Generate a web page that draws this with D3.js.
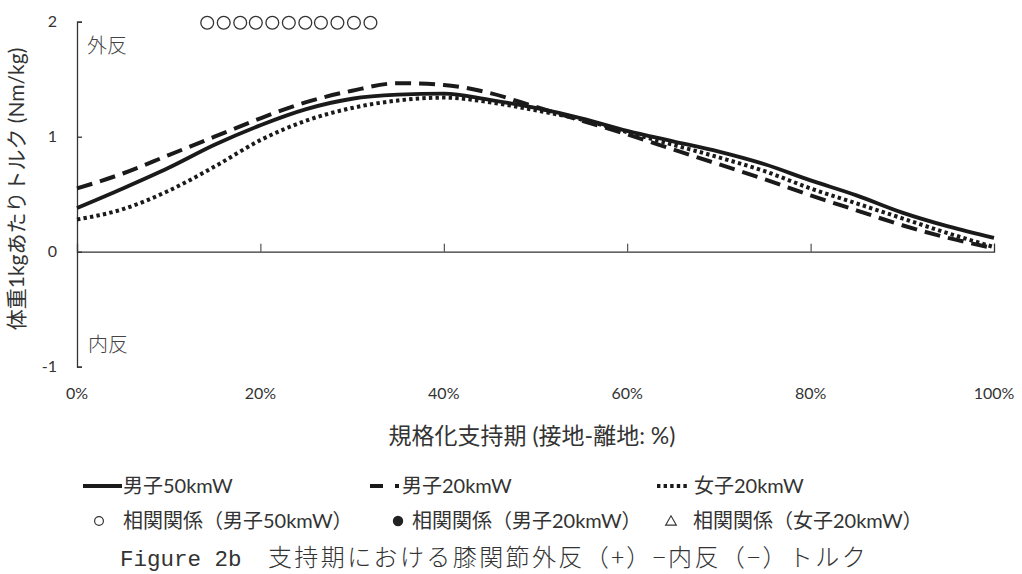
<!DOCTYPE html>
<html><head><meta charset="utf-8">
<script src="https://cdn.jsdelivr.net/npm/d3@7/dist/d3.min.js"></script>
<style>
body{margin:0;background:#fff;}
svg{display:block;}
text{fill:#333;}
</style></head>
<body>
<svg id="chart" width="1022" height="574"></svg>
<script>
// ---- data ----
const phase = [0,5,10,15,20,25,30,35,40,45,50,55,60,65,70,75,80,85,90,95,100];
const male50 = [0.38,0.55,0.73,0.93,1.10,1.24,1.33,1.365,1.375,1.32,1.25,1.16,1.05,0.96,0.87,0.76,0.62,0.49,0.34,0.22,0.12];
const male20 = [0.55,0.68,0.84,1.00,1.16,1.30,1.40,1.465,1.45,1.38,1.26,1.14,1.02,0.89,0.76,0.63,0.49,0.36,0.23,0.12,0.03];
const female20 = [0.28,0.37,0.53,0.74,0.97,1.14,1.25,1.315,1.34,1.30,1.23,1.15,1.04,0.93,0.82,0.70,0.55,0.42,0.29,0.16,0.04];
const sigMale50 = [14.2,16.0,17.8,19.5,21.3,23.1,24.9,26.6,28.4,30.2,32.0];
const xTicks = [0,20,40,60,80,100];
const yTicks = [-1,0,1,2];
const seriesNames = ["男子50kmW","男子20kmW","女子20kmW"];
const corrNames = ["相関関係（男子50kmW）","相関関係（男子20kmW）","相関関係（女子20kmW）"];

const svg = d3.select("#chart");
const ink = "#1a1a1a";
const axisCol = "#333";
const latin = "Lato, 'Noto Sans CJK JP', sans-serif";

const x = d3.scaleLinear().domain([0,100]).range([77,994]);
const y = d3.scaleLinear().domain([-1,2]).range([366.7,21.7]);

// y axis
const yAxis = svg.append("g").attr("transform",`translate(${x(0)},0)`)
  .call(d3.axisRight(y).tickValues(yTicks).tickSize(5).tickFormat(""));
yAxis.select(".domain").attr("stroke",axisCol).attr("stroke-width",1.3);
yAxis.selectAll(".tick line").attr("stroke",axisCol).attr("stroke-width",1.3);
svg.append("g").selectAll("text").data(yTicks).join("text")
  .attr("x",57).attr("y",d=>y(d)).attr("dy","0.36em").attr("text-anchor","end")
  .style("font-family",latin).style("font-size","16px").text(d=>d);

// x axis at y=0
const xAxis = svg.append("g").attr("transform",`translate(0,${y(0)})`)
  .call(d3.axisTop(x).tickValues(xTicks).tickSize(8).tickFormat(""));
xAxis.select(".domain").attr("stroke",axisCol).attr("stroke-width",1.3);
xAxis.selectAll(".tick line").attr("stroke",axisCol).attr("stroke-width",1);
svg.append("g").selectAll("text").data(xTicks).join("text")
  .attr("x",d=>x(d)).attr("y",399).attr("text-anchor","middle")
  .style("font-family",latin).style("font-size","16px").text(d=>d+"%");

// axis titles
svg.append("text").attr("transform",`translate(24,189) rotate(-90)`).attr("text-anchor","middle")
  .style("font-family",latin).style("font-size","21px").text("体重1kgあたりトルク (Nm/kg)");
svg.append("text").attr("x",532).attr("y",444).attr("text-anchor","middle")
  .style("font-family",latin).style("font-size","23px").text("規格化支持期 (接地-離地: %)");

svg.append("text").attr("x",87).attr("y",53).style("font-family","'Noto Sans CJK JP'").style("font-weight","300").style("font-size","20px").style("fill","#444").text("外反");
svg.append("text").attr("x",88).attr("y",352).style("font-family","'Noto Sans CJK JP'").style("font-weight","300").style("font-size","20px").style("fill","#444").text("内反");

// significance circles
svg.append("g").selectAll("circle").data(sigMale50).join("circle")
  .attr("cx",d=>x(d)).attr("cy",y(2)+1).attr("r",6.4)
  .attr("fill","none").attr("stroke","#333").attr("stroke-width",1.3);

// lines
const line = d3.line().x((d,i)=>x(phase[i])).y(d=>y(d)).curve(d3.curveMonotoneX);
const styles = [
  {data:male50, dash:null, w:3.8},
  {data:male20, dash:"16,8", w:4},
  {data:female20, dash:"3.4,3.2", w:4}
];
styles.forEach(s=>{
  svg.append("path").attr("d",line(s.data)).attr("fill","none").attr("stroke",ink)
    .attr("stroke-width",s.w).attr("stroke-dasharray",s.dash);
});

// legend row 1
const legX = [83,370,657];
const legLen = [39,29,33];
const legTextX = [123,402,694];
styles.forEach((s,i)=>{
  svg.append("line").attr("x1",legX[i]).attr("x2",legX[i]+legLen[i]).attr("y1",486).attr("y2",486)
    .attr("stroke",ink).attr("stroke-width",s.w).attr("stroke-dasharray",i===1?"13,12":s.dash);
  svg.append("text").attr("x",legTextX[i]).attr("y",493)
    .style("font-family",latin).style("font-size","20px").text(seriesNames[i]);
});

// legend row 2
svg.append("circle").attr("cx",99).attr("cy",521).attr("r",4.4).attr("fill","none").attr("stroke","#333").attr("stroke-width",1.2);
svg.append("circle").attr("cx",398).attr("cy",521).attr("r",5.2).attr("fill","#222");
svg.append("path").attr("d",d3.symbol().type(d3.symbolTriangle).size(50)()).attr("transform","translate(671,522)")
  .attr("fill","none").attr("stroke","#333").attr("stroke-width",1.1);
const corrX = [123,412,693];
corrNames.forEach((t,i)=>{
  svg.append("text").attr("x",corrX[i]).attr("y",528)
    .style("font-family",latin).style("font-size","20px").text(t);
});

// caption
const cap = svg.append("text").attr("x",120).attr("y",566).style("font-size","24px");
cap.append("tspan").style("font-family","'Liberation Mono', monospace").style("font-size","22.5px").text("Figure 2b");
cap.append("tspan").style("font-family","'Noto Sans CJK JP'").style("font-weight","300").style("letter-spacing","2.4px").text("　支持期における膝関節外反（+）−内反（−）トルク");
</script>
</body></html>
